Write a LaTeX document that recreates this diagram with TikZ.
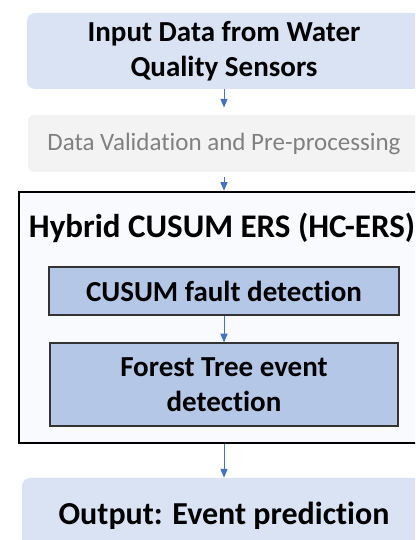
\documentclass[tikz,border=0pt]{standalone}
\usepackage{fontspec}
\setmainfont[Ligatures=NoCommon]{Carlito}
\usepackage{xcolor}
\definecolor{hcblue}{HTML}{4472C4}
\definecolor{hclight}{HTML}{DAE3F3}
\definecolor{hcmid}{HTML}{B4C7E7}
\definecolor{hcgray}{HTML}{F3F3F3}
\definecolor{hcfaint}{HTML}{808080}
\definecolor{hcpale}{HTML}{F8FAFD}
\usetikzlibrary{arrows,positioning}

\begin{document}
\begin{tikzpicture}[->,>=triangle 45,x=1pt,y=1pt,line width=1pt]
              \tikzstyle{iobox}=[rectangle,rounded corners=8pt,fill=hclight,draw=none,align=center,font=\fontsize{29}{35}\selectfont\bfseries]
              \tikzstyle{prebox}=[rectangle,rounded corners=6pt,fill=hcgray,draw=none,text=hcfaint,font=\fontsize{25}{30}\selectfont]
              \tikzstyle{hcbox}=[rectangle,fill=hcpale,draw=black,line width=2.5pt]
              \tikzstyle{detbox}=[rectangle,fill=hcmid,draw=black!80,line width=1.3pt,align=center,font=\fontsize{29}{35}\selectfont\bfseries]
              \tikzstyle{arr}=[draw=hcblue,line width=1pt]

              \useasboundingbox (0,0) rectangle (415,540);
              \clip (0,0) rectangle (415,540);

              \node[iobox,minimum width=394pt,minimum height=76pt]  (in)     at (224,489)   {Input Data from Water\\Quality Sensors};
              \node[prebox,minimum width=392pt,minimum height=57pt] (pre)    at (224,396.5) {Data Validation and Pre-processing};
              \node[hcbox,minimum width=410pt,minimum height=251pt] (hc)     at (224,222.5) {};
              \node[font=\fontsize{33}{36}\selectfont\bfseries,anchor=base] (title) at (222,302) {Hybrid CUSUM ERS (HC-ERS)};
              \node[detbox,minimum width=350pt,minimum height=48pt] (cusum)  at (224,249)   {CUSUM fault detection};
              \node[detbox,minimum width=348pt,minimum height=83pt] (forest) at (224,155.5) {Forest Tree event\\detection};
              \node[iobox,minimum width=404pt,minimum height=76pt,font=\fontsize{32}{35}\selectfont\bfseries] (out) at (224,24) {Output: Event prediction};

              \draw[arr,shorten >=7pt] (in) -- (pre);
              \draw[arr,shorten <=5pt] (pre) -- (hc);
              \draw[arr] (cusum) -- (forest);
              \draw[arr] (hc) -- (out);

       \end{tikzpicture}
\end{document}
